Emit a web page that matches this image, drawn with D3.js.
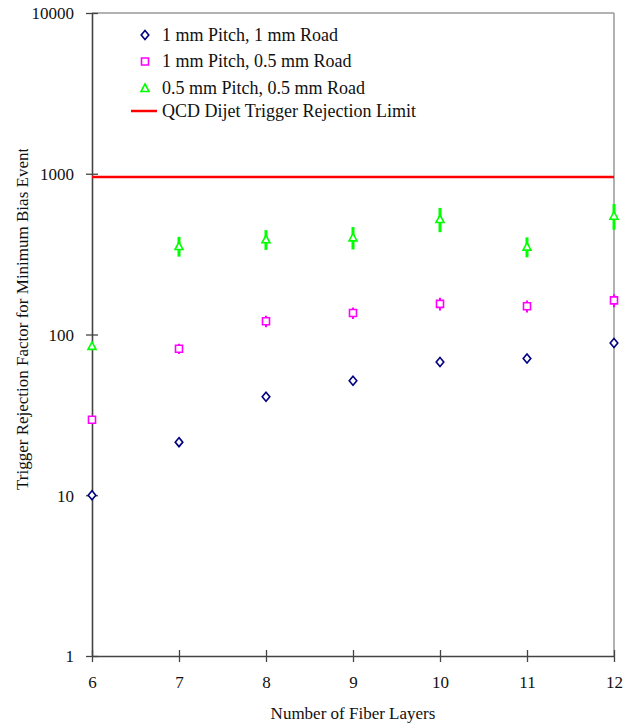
<!DOCTYPE html>
<html>
<head>
<meta charset="utf-8">
<script src="https://cdn.jsdelivr.net/npm/d3@7"></script>
<style>
  body { margin: 0; background: #fff; }
  svg { font-family: "Liberation Serif", "DejaVu Serif", serif; }
</style>
</head>
<body>
<svg width="634" height="728"></svg>
<script>
// Data
var layers = [6, 7, 8, 9, 10, 11, 12];
var pitch1Road1 = [10, 21.4, 41, 51.6, 67.4, 71, 88.6];
var pitch1Road1Err = [0.3, 0.6, 1.2, 1.6, 2, 2.2, 2.8];
var pitch1Road05 = [29.5, 81.6, 121, 136, 155, 150, 163];
var pitch1Road05Err = [0, 6, 10, 11, 14, 13, 15];
var pitch05Road05 = [85, 355, 391, 402, 523, 352, 548];
var pitch05Road05Err = [0, 50, 55, 64, 90, 50, 100];
var qcdLimit = 955;
var yTicks = [1, 10, 100, 1000, 10000];

var seriesNames = ["1 mm Pitch, 1 mm Road", "1 mm Pitch, 0.5 mm Road", "0.5 mm Pitch, 0.5 mm Road"];

var svg = d3.select("svg");
var margin = { left: 92, right: 20, top: 13, bottom: 72 };
var width = 634, height = 728;
var serif = "'Liberation Serif', 'DejaVu Serif', serif";

var x = d3.scaleLinear().domain([6, 12]).range([margin.left, width - margin.right]);
var y = d3.scaleLog().domain([1, 10000]).range([height - margin.bottom, margin.top]);

// frame: top and right light grey
svg.append("line")
	.attr("x1", x(6)).attr("x2", x(12))
	.attr("y1", y(10000)).attr("y2", y(10000))
	.attr("stroke", "#999").attr("stroke-width", 1.5);
svg.append("line")
	.attr("x1", x(12)).attr("x2", x(12))
	.attr("y1", y(10000)).attr("y2", y(1))
	.attr("stroke", "#999").attr("stroke-width", 1.5);

// Axes
var xAxis = d3.axisBottom(x).tickValues(layers).tickFormat(d3.format("d"))
	.tickSizeInner(6).tickSizeOuter(0).tickPadding(14);
var yAxis = d3.axisLeft(y).tickValues(yTicks).tickFormat(d3.format("d"))
	.tickSizeInner(6).tickSizeOuter(0).tickPadding(12);

var gx = svg.append("g").attr("transform", "translate(0," + y(1) + ")").call(xAxis);
var gy = svg.append("g").attr("transform", "translate(" + x(6) + ",0)").call(yAxis);

[gx, gy].forEach(function (g) {
	g.attr("font-family", serif).attr("font-size", 17);
	g.select(".domain").attr("stroke", "#444").attr("stroke-width", 1.6);
	g.selectAll(".tick text").attr("fill", "#111");
	g.selectAll(".tick line").attr("stroke", "#444").attr("stroke-width", 1.3);
});
// ticks crossing the axis
gx.selectAll(".tick line").attr("y1", -6).attr("y2", 6);
gy.selectAll(".tick line").attr("x1", -6).attr("x2", 6);
gy.selectAll(".tick text").attr("dy", "0.35em");

// QCD limit line
svg.append("line")
	.attr("x1", x(6)).attr("x2", x(12))
	.attr("y1", y(qcdLimit)).attr("y2", y(qcdLimit))
	.attr("stroke", "#ff0000").attr("stroke-width", 2.5);

// Series
var series = [
	{ vals: pitch1Road1, err: pitch1Road1Err, color: "#000080", shape: "diamond", ew: 2 },
	{ vals: pitch1Road05, err: pitch1Road05Err, color: "#ff00ff", shape: "square", ew: 2 },
	{ vals: pitch05Road05, err: pitch05Road05Err, color: "#00ff00", shape: "triangle", ew: 3 }
];

function markerPath(shape) {
	if (shape == "diamond") return "M0,-4.5L3.8,0L0,4.5L-3.8,0Z";
	if (shape == "square") return "M-3.5,-3.5H3.5V3.5H-3.5Z";
	return "M0,-4L4,3.5H-4Z";
}

series.forEach(function (s) {
	var pts = layers.map(function (l, i) { return { x: l, v: s.vals[i], e: s.err[i] }; });
	var g = svg.append("g");
	g.selectAll("line.err")
		.data(pts.filter(function (d) { return d.e > 0; }))
		.enter().append("line")
		.attr("class", "err")
		.attr("x1", (d) => x(d.x)).attr("x2", (d) => x(d.x))
		.attr("y1", (d) => y(d.v + d.e)).attr("y2", (d) => y(d.v - d.e))
		.attr("stroke", s.color).attr("stroke-width", s.ew);
	g.selectAll("path")
		.data(pts)
		.enter().append("path")
		.attr("d", markerPath(s.shape))
		.attr("transform", (d) => "translate(" + x(d.x) + "," + y(d.v) + ")")
		.attr("fill", "#fff")
		.attr("stroke", s.color).attr("stroke-width", 1.6);
});

// Legend
var legend = svg.append("g").attr("font-size", 18).attr("fill", "#111");
series.forEach(function (s, i) {
	var ly = 35 + i * 26.5;
	legend.append("path")
		.attr("d", markerPath(s.shape))
		.attr("transform", "translate(145," + ly + ")")
		.attr("fill", "#fff").attr("stroke", s.color).attr("stroke-width", 1.6);
	legend.append("text").attr("x", 162).attr("y", ly + 5.5).text(seriesNames[i]);
});
legend.append("line")
	.attr("x1", 131).attr("x2", 157).attr("y1", 111).attr("y2", 111)
	.attr("stroke", "#ff0000").attr("stroke-width", 2.5);
legend.append("text").attr("x", 162).attr("y", 116.5).text("QCD Dijet Trigger Rejection Limit");

// Axis titles
svg.append("text")
	.attr("x", (x(6) + x(12)) / 2).attr("y", 719)
	.attr("text-anchor", "middle").attr("font-size", 17).attr("fill", "#111")
	.text("Number of Fiber Layers");

// y title is cut off at the top in the original
svg.append("clipPath").attr("id", "yclip")
	.append("rect").attr("x", 0).attr("y", 149).attr("width", 60).attr("height", 400);
svg.append("g").attr("clip-path", "url(#yclip)")
	.append("text")
	.attr("transform", "translate(28,490) rotate(-90)")
	.attr("font-size", 17).attr("fill", "#111")
	.text("Trigger Rejection Factor for Minimum Bias Events");
</script>
</body>
</html>
